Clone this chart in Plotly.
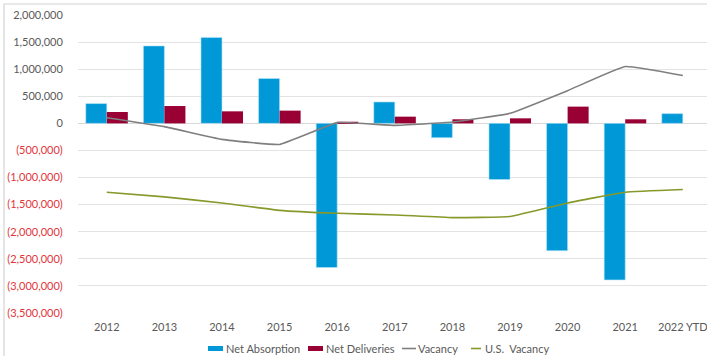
import plotly.graph_objects as go

# Years on the category axis
years = ["2012", "2013", "2014", "2015", "2016", "2017", "2018", "2019", "2020", "2021", "2022 YTD"]

# Square-foot values per year
net_absorption = [365000, 1430000, 1587000, 828000, -2660000, 395000, -265000, -1037000, -2350000, -2890000, 180000]
net_deliveries = [210000, 320000, 222000, 235000, 30000, 124000, 75000, 93000, 309000, 75000, None]

# Vacancy trend lines, expressed on the same scale
vacancy = [105000, -60000, -296000, -389000, 13000, -37000, 24000, 185000, 604000, 1050000, 883000]
us_vacancy = [-1272000, -1357000, -1469000, -1605000, -1660000, -1690000, -1740000, -1720000, -1470000, -1270000, -1220000]

# Value-axis ticks
tick_values = [2000000, 1500000, 1000000, 500000, 0, -500000, -1000000, -1500000, -2000000, -2500000, -3000000, -3500000]


def fmt_tick(v):
    if v < 0:
        return '<span style="color:#e2353a">({:,})</span>'.format(-v)
    return "{:,}".format(v)


tick_text = [fmt_tick(v) for v in tick_values]

BLUE = "#0098d6"
RED = "#990033"
GRAY = "#7f7f7f"
OLIVE = "#86992a"
TEXT = "#595959"
GRID = "#e3e3e3"
FONT = "Lato, 'Open Sans', sans-serif"

W, H = 707, 356
ML, MR, MT, MB = 78, 0, 15, 43
PW, PH = W - ML - MR, H - MT - MB


def px(x):
    """Pixel column -> paper x."""
    return (x - ML) / PW


def py(y):
    """Pixel row -> paper y."""
    return (H - MB - y) / PH


fig = go.Figure()
fig.add_trace(go.Bar(x=years, y=net_absorption, name="Net Absorption",
                     marker=dict(color=BLUE, line=dict(color="#b8e6f7", width=0.6))))
fig.add_trace(go.Bar(x=years, y=net_deliveries, name="Net Deliveries",
                     marker=dict(color=RED, line=dict(width=0))))
fig.add_trace(go.Scatter(x=years, y=vacancy, name="Vacancy", mode="lines",
                         line=dict(color=GRAY, width=1.6, shape="spline", smoothing=0.3)))
fig.add_trace(go.Scatter(x=years, y=us_vacancy, name="U.S.  Vacancy", mode="lines",
                         line=dict(color=OLIVE, width=1.6, shape="spline", smoothing=0.3)))

# Light frame around the chart
fig.add_shape(type="rect", xref="paper", yref="paper",
              x0=px(4), x1=px(760), y0=py(400), y1=py(4),
              line=dict(color="#d4d4d4", width=1.2), fillcolor="rgba(0,0,0,0)", layer="below")

# Legend row beneath the axis: swatch/line key followed by its label
legend_y = 348.5
legend_items = [
    ("Net Absorption", BLUE, "box", 208, 223, 224),
    ("Net Deliveries", RED, "box", 308, 323, 324),
    ("Vacancy", GRAY, "line", 402, 416, 416),
    ("U.S.  Vacancy", OLIVE, "line", 471, 481, 483),
]
for label, color, kind, k0, k1, tx in legend_items:
    if kind == "box":
        fig.add_shape(type="rect", xref="paper", yref="paper",
                      x0=px(k0), x1=px(k1), y0=py(legend_y + 2.5), y1=py(legend_y - 2.5),
                      line=dict(width=0), fillcolor=color)
    else:
        fig.add_shape(type="line", xref="paper", yref="paper",
                      x0=px(k0), x1=px(k1), y0=py(legend_y), y1=py(legend_y),
                      line=dict(color=color, width=1.6))
    fig.add_annotation(text=label, xref="paper", yref="paper", x=px(tx), y=py(legend_y),
                       xanchor="left", yanchor="middle", showarrow=False,
                       font=dict(family=FONT, size=11, color=TEXT))

fig.update_layout(
    width=W, height=H,
    margin=dict(l=ML, r=MR, t=MT, b=MB, autoexpand=False),
    paper_bgcolor="white", plot_bgcolor="white",
    font=dict(family=FONT, size=11, color=TEXT),
    barmode="group", bargap=0.27, bargroupgap=0,
    showlegend=False,
    xaxis=dict(type="category", range=[-0.5, 10.42], showgrid=False, zeroline=False,
               showline=False, ticks="outside", ticklen=4, tickcolor="rgba(0,0,0,0)",
               tickfont=dict(size=11, color=TEXT)),
    yaxis=dict(range=[-3500000, 2000000], tickvals=tick_values, ticktext=tick_text,
               showgrid=True, gridcolor=GRID, gridwidth=1,
               zeroline=True, zerolinecolor="#d9d9d9", zerolinewidth=1,
               showline=False, ticks="outside", ticklen=12, tickcolor="rgba(0,0,0,0)",
               tickfont=dict(size=11, color=TEXT)),
)

fig.write_html("out.html")
